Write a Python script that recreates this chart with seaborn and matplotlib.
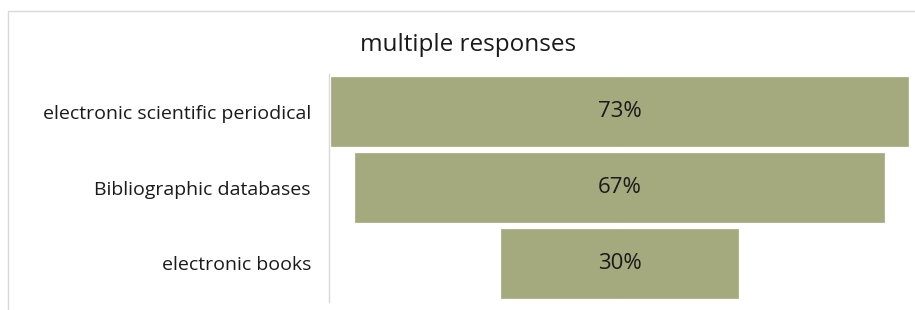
import numpy as np
import pandas as pd
import seaborn as sns
import matplotlib.pyplot as plt
from matplotlib.patches import Rectangle

categorias = ['electronic scientific periodical', 'Bibliographic databases', 'electronic books']
valores = [73, 67, 30]
titulo = 'multiple responses'

cor = '#a4a97e'

sns.set_style('white')
plt.rcParams['font.family'] = ['Open Sans', 'DejaVu Sans']

df = pd.DataFrame({'categoria': categorias, 'valor': valores})
df['metade'] = df['valor'] / 2
df['metade_neg'] = -df['valor'] / 2

fig = plt.figure(figsize=(9.15, 3.1), dpi=100)
ax = fig.add_axes([329 / 915, 8.5 / 310, 581 / 915, 228 / 310])

# funil: cada barra desenhada em duas metades a partir do centro
sns.barplot(data=df, x='metade', y='categoria', color=cor, width=0.9,
            edgecolor=cor, linewidth=0.5, saturation=1, ax=ax)
sns.barplot(data=df, x='metade_neg', y='categoria', color=cor, width=0.9,
            edgecolor=cor, linewidth=0.5, saturation=1, ax=ax)

for i, v in enumerate(valores):
    ax.text(0, i, f'{v}%', ha='center', va='center', fontsize=16, color='#1a1a1a')

ax.set_xlim(-36.75, 36.75)
ax.set_ylim(2.5, -0.5)
ax.set_xlabel('')
ax.set_ylabel('')
ax.set_xticks([])
ax.tick_params(axis='y', length=0, pad=13, labelsize=14, labelcolor='#1a1a1a')
sns.despine(ax=ax, top=True, right=True, bottom=True, left=False)
ax.spines['left'].set_color('#d9d9d9')
ax.spines['left'].set_linewidth(1)

fig.text(468 / 915, 1 - 45 / 310, titulo, ha='center', va='center',
         fontsize=17.5, color='#1a1a1a')

# moldura do gráfico
fig.patches.append(Rectangle((8 / 915, -0.1), 1.2, 1.1 - 11 / 310,
                             transform=fig.transFigure, fill=False,
                             edgecolor='#d9d9d9', linewidth=1))

fig.savefig('out.png', dpi=100)
